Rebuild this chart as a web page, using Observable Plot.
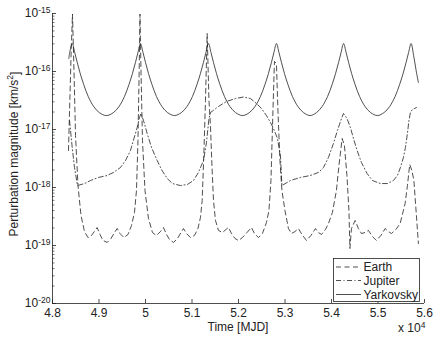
<!DOCTYPE html>
<html><head><meta charset="utf-8">
<script src="https://cdn.jsdelivr.net/npm/d3@7"></script>
<script src="https://cdn.jsdelivr.net/npm/@observablehq/plot@0.6"></script>
<style>
body{margin:0;background:#fff;}
#chart svg{font-family:"Liberation Sans",Arial,sans-serif;}
</style></head><body><div id="chart"></div>
<script>
// Time [MJD], perturbation magnitude [km/s^2]
const earth = [[48344,4.35e-18],[48376,3.86e-17],[48402,2.30e-16],[48430,9.8e-16],[48462,1.04e-16],[48495,7.89e-18],[48548,1.08e-18],[48613,3.29e-19],[48688,1.74e-19],[48763,1.37e-19],[48839,1.49e-19],[48961,2.04e-19],[49021,1.55e-19],[49086,1.22e-19],[49176,1.13e-19],[49258,1.32e-19],[49333,1.67e-19],[49391,1.96e-19],[49451,1.61e-19],[49537,1.37e-19],[49623,1.55e-19],[49699,2.21e-19],[49763,3.71e-19],[49806,8.87e-19],[49838,6.46e-18],[49864,1.04e-16],[49881,9.8e-16],[49903,1.04e-16],[49935,6.46e-18],[49989,8.87e-19],[50064,2.92e-19],[50150,1.67e-19],[50236,1.49e-19],[50322,1.74e-19],[50387,2.04e-19],[50451,1.55e-19],[50516,1.27e-19],[50602,1.13e-19],[50688,1.32e-19],[50763,1.67e-19],[50817,1.96e-19],[50881,1.61e-19],[50967,1.37e-19],[51053,1.49e-19],[51128,1.96e-19],[51182,3.04e-19],[51219,5.97e-19],[51257,4.35e-18],[51290,3.16e-17],[51326,4.52e-16],[51365,3.16e-17],[51397,1.17e-17],[51429,2.39e-18],[51462,5.97e-19],[51505,2.70e-19],[51569,1.82e-19],[51655,1.67e-19],[51730,1.89e-19],[51784,2.04e-19],[51849,1.61e-19],[51924,1.32e-19],[51999,1.22e-19],[52085,1.37e-19],[52182,1.67e-19],[52279,2.04e-19],[52343,1.61e-19],[52429,1.37e-19],[52515,1.61e-19],[52601,2.49e-19],[52655,4.01e-19],[52698,1.32e-18],[52741,2.13e-17],[52773,1.49e-16],[52816,1.37e-16],[52848,2.13e-17],[52891,2.92e-18],[52934,8.87e-19],[52999,4.01e-19],[53074,1.96e-19],[53139,1.61e-19],[53214,1.74e-19],[53289,1.96e-19],[53364,1.55e-19],[53461,1.22e-19],[53558,1.49e-19],[53655,1.96e-19],[53719,1.67e-19],[53784,1.55e-19],[53870,1.89e-19],[53934,2.39e-19],[54020,3.71e-19],[54106,8.87e-19],[54160,2.39e-18],[54229,7.00e-18],[54278,5.30e-18],[54332,1.61e-18],[54375,4.01e-19],[54396,8.87e-20],[54429,1.96e-19],[54508,2.70e-19],[54579,1.96e-19],[54644,1.61e-19],[54719,1.67e-19],[54794,1.82e-19],[54880,1.43e-19],[54966,1.22e-19],[55063,1.49e-19],[55153,1.96e-19],[55224,1.74e-19],[55289,1.61e-19],[55385,1.89e-19],[55476,2.39e-19],[55583,5.30e-19],[55633,1.08e-18],[55682,2.49e-18],[55729,1.96e-18],[55772,1.32e-18],[55826,3.29e-19],[55869,1.08e-19]];

const jupiter = [[48366,1.43e-17],[48424,4.90e-18],[48473,2.21e-18],[48538,1.08e-18],[48688,1.17e-18],[48817,1.32e-18],[48989,1.49e-18],[49176,1.61e-18],[49312,1.82e-18],[49462,2.21e-18],[49570,2.92e-18],[49677,4.35e-18],[49752,7.00e-18],[49821,1.08e-17],[49871,1.61e-17],[49903,1.89e-17],[49957,1.43e-17],[50036,8.53e-18],[50129,4.90e-18],[50251,2.92e-18],[50344,2.04e-18],[50466,1.43e-18],[50580,1.17e-18],[50752,1.08e-18],[50903,1.13e-18],[51032,1.32e-18],[51139,1.82e-18],[51247,2.92e-18],[51311,5.97e-18],[51365,1.55e-17],[51397,1.96e-17],[51569,2.49e-17],[51741,3.04e-17],[51935,3.42e-17],[52107,3.63e-17],[52257,3.42e-17],[52386,2.81e-17],[52494,2.30e-17],[52601,1.74e-17],[52687,1.32e-17],[52752,1.04e-17],[52838,7.00e-18],[52902,3.56e-18],[52934,1.08e-18],[53117,1.32e-18],[53332,1.49e-18],[53547,1.61e-18],[53719,1.82e-18],[53827,2.21e-18],[53934,3.29e-18],[54042,5.74e-18],[54128,9.62e-18],[54192,1.37e-17],[54257,1.89e-17],[54332,1.55e-17],[54407,1.08e-17],[54472,7.00e-18],[54551,4.35e-18],[54644,2.70e-18],[54766,1.74e-18],[54880,1.32e-18],[55052,1.17e-18],[55203,1.17e-18],[55332,1.32e-18],[55418,1.61e-18],[55482,2.21e-18],[55547,3.29e-18],[55590,4.90e-18],[55633,8.53e-18],[55665,1.43e-17],[55697,1.96e-17],[55740,2.21e-17],[55826,2.39e-17]];

const yarkovsky = [[48351,1.67e-16],[48370,2.13e-16],[48424,3.04e-16],[48478,2.13e-16],[48532,1.43e-16],[48596,9.25e-17],[48671,5.97e-17],[48768,3.71e-17],[48886,2.49e-17],[49005,1.96e-17],[49158,1.74e-17],[49311,1.96e-17],[49430,2.49e-17],[49548,3.71e-17],[49645,5.97e-17],[49720,9.25e-17],[49784,1.43e-16],[49838,2.13e-16],[49892,3.04e-16],[49946,2.13e-16],[50000,1.43e-16],[50064,9.25e-17],[50139,5.97e-17],[50236,3.71e-17],[50354,2.49e-17],[50473,1.96e-17],[50623,1.74e-17],[50773,1.96e-17],[50892,2.49e-17],[51010,3.71e-17],[51107,5.97e-17],[51182,9.25e-17],[51246,1.43e-16],[51300,2.13e-16],[51354,3.04e-16],[51408,2.13e-16],[51462,1.43e-16],[51526,9.25e-17],[51601,5.97e-17],[51698,3.71e-17],[51816,2.49e-17],[51935,1.96e-17],[52085,1.74e-17],[52235,1.96e-17],[52354,2.49e-17],[52472,3.71e-17],[52569,5.97e-17],[52644,9.25e-17],[52708,1.43e-16],[52762,2.13e-16],[52816,3.04e-16],[52870,2.13e-16],[52924,1.43e-16],[52988,9.25e-17],[53063,5.97e-17],[53160,3.71e-17],[53278,2.49e-17],[53397,1.96e-17],[53538,1.74e-17],[53679,1.96e-17],[53798,2.49e-17],[53916,3.71e-17],[54013,5.97e-17],[54088,9.25e-17],[54152,1.43e-16],[54206,2.13e-16],[54260,3.04e-16],[54314,2.13e-16],[54368,1.43e-16],[54432,9.25e-17],[54507,5.97e-17],[54604,3.71e-17],[54722,2.49e-17],[54841,1.96e-17],[54986,1.74e-17],[55131,1.96e-17],[55250,2.49e-17],[55368,3.71e-17],[55465,5.97e-17],[55540,9.25e-17],[55604,1.43e-16],[55658,2.13e-16],[55712,3.04e-16],[55766,1.89e-16],[55820,1.04e-16],[55869,6.45e-17]];

const seriesNames = ["Earth", "Jupiter", "Yarkovsky"];
const xTicks = [48000, 49000, 50000, 51000, 52000, 53000, 54000, 55000, 56000];
const yTicks = [1e-20, 1e-19, 1e-18, 1e-17, 1e-16, 1e-15];
const yMinorTicks = [-20, -19, -18, -17, -16].flatMap(e => [2,3,4,5,6,7,8,9].map(m => m * Math.pow(10, e)));
const xLabel = "Time [MJD]";
const yLabel = "Perturbation magnitude [km/s";
const xMultiplier = "x 10";

const INK = "#222";
const dashes = {Earth: "5,3.5", Jupiter: "5,2.5,1,2.5", Yarkovsky: null};
const W = 436, H = 339, ML = 52, MR = 12, MT = 13, MB = 36;
const FW = W - ML - MR, FH = H - MT - MB;
const lineStyle = {x: d => d[0], y: d => d[1], stroke: INK, strokeWidth: 0.8, clip: true};

const plot = Plot.plot({
  width: W, height: H,
  marginLeft: ML, marginRight: MR, marginTop: MT, marginBottom: MB,
  style: {fontFamily: "Liberation Sans, Arial, sans-serif", fontSize: "12px", color: INK, background: "#fff", overflow: "visible"},
  x: {domain: [48000, 56000]},
  y: {type: "log", domain: [1e-20, 1e-15]},
  marks: [
    Plot.line(earth, {...lineStyle, strokeDasharray: dashes.Earth}),
    Plot.line(jupiter, {...lineStyle, strokeDasharray: dashes.Jupiter}),
    Plot.line(yarkovsky, {...lineStyle, curve: "catmull-rom"}),
    Plot.ruleX([48000], {stroke: INK, strokeWidth: 0.8}),
    Plot.ruleY([1e-20], {stroke: INK, strokeWidth: 0.8}),
    Plot.tickX(xTicks, {x: d => d, insetTop: FH - 4, stroke: INK, strokeWidth: 0.8}),
    Plot.tickY(yTicks, {y: d => d, insetRight: FW - 4, stroke: INK, strokeWidth: 0.8}),
    Plot.tickY(yMinorTicks, {y: d => d, insetRight: FW - 2.5, stroke: INK, strokeWidth: 0.6}),
    Plot.axisX(xTicks, {tickSize: 0, tickPadding: 5, tickFormat: d => String(d / 1e4), label: null}),
    Plot.axisY(yTicks, {tickSize: 0, tickPadding: 2, tickFormat: d => "10^" + Math.round(Math.log10(d)), label: null})
  ]
});
document.getElementById("chart").appendChild(plot);

const svg = d3.select(plot);
// superscripts on y tick labels
svg.selectAll('g[aria-label="y-axis tick label"] text').each(function() {
  const t = d3.select(this);
  const [base, exp] = t.text().split("^");
  t.text(base);
  t.append("tspan").attr("dy", "-0.5em").attr("font-size", "8.5px").text(exp);
});

const fontFam = "Liberation Sans, Arial, sans-serif";
// x label
svg.append("text").attr("x", ML + FW / 2).attr("y", 330.5).attr("text-anchor", "middle")
  .attr("font-family", fontFam).attr("font-size", 12).attr("fill", INK).text(xLabel);
// x multiplier
const mult = svg.append("text").attr("x", 398).attr("y", 331.5).attr("text-anchor", "start")
  .attr("font-family", fontFam).attr("font-size", 12).attr("fill", INK).text(xMultiplier);
mult.append("tspan").attr("dy", "-0.4em").attr("font-size", "8.5px").text("4");
// y label
const yl = svg.append("text").attr("transform", `translate(17.5,${MT + FH / 2 - 4}) rotate(-90)`)
  .attr("text-anchor", "middle").attr("font-family", fontFam).attr("font-size", 12).attr("fill", INK)
  .text(yLabel);
yl.append("tspan").attr("dy", "-0.5em").attr("font-size", "8.5px").text("2");
yl.append("tspan").attr("dy", "0.5em").text("]");

// legend
const lg = svg.append("g");
lg.append("rect").attr("x", 333.5).attr("y", 258.5).attr("width", 86).attr("height", 43)
  .attr("fill", "#fff").attr("stroke", INK).attr("stroke-width", 0.8);
const rowY = [267, 280.5, 294.5];
seriesNames.forEach((name, i) => {
  lg.append("line").attr("x1", 336).attr("x2", 361).attr("y1", rowY[i]).attr("y2", rowY[i])
    .attr("stroke", INK).attr("stroke-width", 0.8).attr("stroke-dasharray", dashes[name]);
  lg.append("text").attr("x", 363.5).attr("y", rowY[i]).attr("dy", "0.35em").attr("text-anchor", "start")
    .attr("font-family", fontFam).attr("font-size", 12).attr("fill", INK).text(name);
});
</script></body></html>
